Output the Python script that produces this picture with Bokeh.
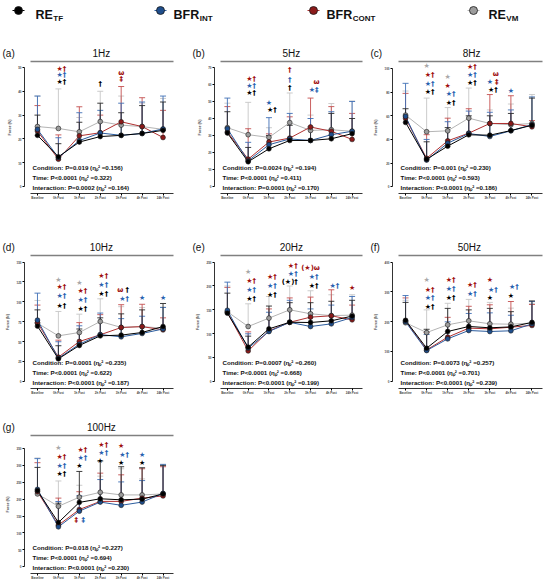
from bokeh.plotting import figure
from bokeh.layouts import column, row
from bokeh.models import (ColumnDataSource, Range1d, FixedTicker, LinearAxis, Label,
                          Whisker, TeeHead, Title)
from bokeh.core.properties import value
from bokeh.embed import file_html
from bokeh.resources import INLINE

# ---------------- data ----------------
times = ["Baseline", "0h Post", "1h Post", "2h Post", "3h Post", "4h Post", "24h Post"]
legend_main = ["RE", "BFR", "BFR", "RE"]
legend_sub = ["TF", "INT", "CONT", "VM"]

# 1 Hz
hz1_tf = [21.5, 12.5, 18.7, 21.0, 21.5, 22.3, 23.6]
hz1_tf_sd = [8.5, 5.5, 8.3, 14.0, 9.5, 11.7, 11.9]
hz1_int = [24.0, 12.2, 19.3, 22.5, 21.5, 22.3, 24.2]
hz1_int_sd = [14.0, 8.3, 11.7, 9.5, 13.5, 13.2, 13.8]
hz1_cont = [23.3, 11.5, 21.3, 22.6, 27.2, 25.2, 20.6]
hz1_cont_sd = [10.7, 10.2, 12.2, 7.4, 14.8, 12.1, 11.4]
hz1_vm = [25.2, 24.4, 23.0, 27.3, 25.8, 25.2, 24.0]
hz1_vm_sd = [12.8, 16.6, 6.0, 12.7, 12.2, 9.8, 13.0]

# 5 Hz
hz5_tf = [31.5, 14.6, 22.2, 27.1, 27.1, 28.1, 31.1]
hz5_tf_sd = [12.5, 8.4, 7.8, 8.9, 7.9, 14.9, 8.9]
hz5_int = [34.0, 15.1, 24.6, 28.0, 27.1, 30.5, 32.5]
hz5_int_sd = [18.0, 10.9, 15.9, 15.0, 12.9, 13.5, 17.5]
hz5_cont = [32.1, 16.1, 26.2, 28.5, 35.0, 32.5, 27.7]
hz5_cont_sd = [14.9, 17.9, 4.8, 12.5, 17.0, 14.5, 15.3]
hz5_vm = [34.6, 30.5, 28.9, 37.6, 33.0, 33.4, 32.5]
hz5_vm_sd = [14.4, 19.0, 5.7, 17.4, 9.0, 15.4, 17.8]

# 8 Hz
hz8_tf = [54.4, 23.2, 34.3, 43.9, 43.6, 47.5, 52.0]
hz8_tf_sd = [11.6, 14.8, 15.7, 16.1, 16.4, 14.5, 23.0]
hz8_int = [59.5, 22.5, 36.8, 45.0, 42.5, 47.3, 52.5]
hz8_int_sd = [28.0, 17.5, 18.2, 19.0, 20.5, 17.7, 23.5]
hz8_cont = [58.0, 24.0, 38.8, 45.3, 53.5, 53.5, 50.7]
hz8_cont_sd = [21.0, 20.0, 19.2, 20.7, 24.5, 23.5, 5.3]
hz8_vm = [60.6, 46.5, 47.3, 58.0, 53.5, 52.4, 53.5]
hz8_vm_sd = [20.4, 28.5, 19.7, 25.5, 11.5, 17.6, 24.5]

# 10 Hz
hz10_tf = [69.6, 28.5, 45.3, 57.4, 58.3, 61.6, 69.1]
hz10_tf_sd = [20.4, 16.5, 20.7, 22.6, 26.7, 28.4, 28.9]
hz10_int = [77.1, 29.3, 46.9, 59.0, 56.2, 60.4, 66.0]
hz10_int_sd = [33.9, 20.7, 23.1, 27.0, 22.8, 21.6, 27.0]
hz10_cont = [74.0, 30.6, 50.3, 58.7, 67.9, 69.0, 64.9]
hz10_cont_sd = [22.0, 21.4, 23.7, 25.3, 28.6, 28.0, 15.1]
hz10_vm = [73.3, 57.4, 61.6, 75.4, 68.0, 69.0, 67.0]
hz10_vm_sd = [28.5, 30.6, 23.0, 28.5, 26.0, 24.0, 26.4]

# 20 Hz
hz20_tf = [143.0, 72.0, 110.3, 124.1, 123.6, 127.1, 137.0]
hz20_tf_sd = [42.0, 23.0, 47.7, 40.9, 41.4, 40.9, 33.0]
hz20_int = [149.0, 70.0, 104.7, 124.0, 115.2, 120.8, 134.0]
hz20_int_sd = [59.0, 30.0, 40.3, 46.0, 36.8, 39.2, 44.0]
hz20_cont = [145.0, 64.2, 106.0, 124.0, 134.8, 137.6, 129.2]
hz20_cont_sd = [52.0, 39.8, 46.0, 51.0, 41.9, 54.4, 30.8]
hz20_vm = [146.0, 115.2, 132.7, 150.1, 141.8, 138.0, 139.0]
hz20_vm_sd = [54.0, 47.5, 45.3, 49.9, 48.2, 43.6, 42.6]

# 50 Hz
hz50_tf = [205.0, 111.7, 167.6, 184.4, 180.0, 183.0, 198.0]
hz50_tf_sd = [60.0, 63.3, 77.4, 55.6, 65.0, 51.0, 72.0]
hz50_int = [200.0, 103.9, 143.0, 171.0, 167.6, 170.0, 193.0]
hz50_int_sd = [88.0, 54.1, 57.0, 57.0, 62.4, 52.0, 75.0]
hz50_cont = [203.0, 106.0, 148.6, 178.8, 176.5, 182.0, 188.0]
hz50_cont_sd = [77.0, 59.0, 66.4, 73.2, 80.5, 86.0, 70.0]
hz50_vm = [197.0, 164.0, 190.0, 203.4, 193.3, 192.0, 196.0]
hz50_vm_sd = [75.0, 76.0, 72.0, 71.6, 71.7, 53.8, 66.0]

# 100 Hz
hz100_tf = [225.0, 130.8, 190.4, 201.0, 198.0, 200.0, 215.4]
hz100_tf_sd = [69.0, 57.2, 91.6, 112.0, 98.0, 93.0, 84.6]
hz100_int = [228.8, 118.0, 164.4, 191.3, 181.7, 191.3, 217.0]
hz100_int_sd = [91.2, 75.0, 45.6, 66.7, 69.3, 63.7, 86.0]
hz100_cont = [222.0, 123.0, 169.2, 193.3, 193.3, 202.9, 209.6]
hz100_cont_sd = [86.0, 80.0, 52.8, 83.7, 78.7, 87.1, 86.4]
hz100_vm = [215.4, 178.8, 205.8, 220.2, 212.5, 212.5, 215.4]
hz100_vm_sd = [106.6, 75.0, 35.2, 47.8, 77.5, 47.5, 82.6]

# y-axis ticks per panel
hz1_ticks = [0, 10, 20, 30, 40, 50]
hz5_ticks = [0, 10, 20, 30, 40, 50, 60, 70]
hz8_ticks = [0, 20, 40, 60, 80, 100]
hz10_ticks = [0, 25, 50, 75, 100, 125, 150]
hz20_ticks = [0, 50, 100, 150, 200, 250]
hz50_ticks = [0, 100, 200, 300, 400]
hz100_ticks = [0, 50, 100, 150, 200, 250, 300, 350]

# significance marks: (time index, force value, symbol, group[, nudge px])
hz1_marks = [(1, 49.4, "★†", "r"), (1, 46.7, "★†", "b"), (1, 43.9, "★†", "k"),
             (3, 43.0, "†", "k"), (4, 47.7, "ω", "r"), (4, 45.0, "‡", "r")]
hz5_marks = [(1, 63.5, "★†", "r"), (1, 59.2, "★†", "b"), (1, 54.7, "★†", "k"),
             (2, 49.4, "★", "b"), (2, 44.8, "★†", "k"),
             (3, 68.4, "†", "r"), (3, 62.9, "†", "b"), (3, 58.2, "†", "k"),
             (4, 61.5, "ω", "r", 6), (4, 57.0, "★‡", "b")]
hz8_marks = [(1, 102.3, "★", "g"), (1, 94.6, "★†", "r"), (1, 87.0, "★†", "b"), (1, 79.9, "★†", "k"),
             (2, 92.6, "★", "g"), (2, 85.6, "★", "r"), (2, 78.5, "★†", "b"), (2, 70.8, "★†", "k"),
             (3, 101.7, "★†", "r"), (3, 94.6, "★†", "b"), (3, 87.5, "★†", "k"),
             (4, 95.5, "ω", "r", 6), (4, 88.4, "★", "b"), (4, 88.4, "‡", "r", 7), (4, 81.9, "★†", "k"),
             (5, 81.3, "★", "b")]
hz10_marks = [(1, 127.8, "★", "g"), (1, 118.6, "★†", "r"), (1, 107.7, "★†", "b"), (1, 95.1, "★†", "k"),
              (2, 123.6, "★", "g"), (2, 113.1, "★†", "r"), (2, 101.8, "★†", "b"), (2, 90.9, "★†", "k"),
              (3, 132.0, "★†", "r"), (3, 121.5, "★†", "b"), (3, 109.8, "★†", "k"),
              (4, 114.4, "ω", "r", -1), (4, 114.4, "†", "k", 6), (4, 103.9, "★†", "b"),
              (5, 104.8, "★", "b"), (6, 104.8, "★", "b")]
hz20_marks = [(1, 228.4, "★", "g"), (1, 209.5, "★†", "r"), (1, 190.6, "★†", "b"), (1, 172.5, "★†", "k"),
              (2, 218.6, "★†", "r"), (2, 200.4, "★†", "b"), (2, 181.6, "★†", "k"),
              (3, 242.3, "★†", "r"), (3, 224.9, "★†", "b"), (3, 207.4, "(★)†", "k"),
              (4, 237.4, "(★)ω", "r"), (4, 218.6, "★†", "b"), (4, 200.4, "★†", "k"),
              (5, 200.4, "★†", "b"), (6, 195.5, "★", "r")]
hz50_marks = [(1, 338.5, "★", "g"), (1, 307.3, "★†", "r"), (1, 279.3, "★†", "b"), (1, 249.2, "★†", "k"),
              (2, 338.5, "★†", "r"), (2, 309.5, "★†", "b"), (2, 279.3, "★†", "k"),
              (3, 321.8, "★†", "r"), (3, 292.7, "★†", "b"),
              (4, 338.5, "★", "r"), (4, 307.3, "★†", "b"), (4, 279.3, "★", "k"),
              (5, 316.2, "★†", "b"), (5, 287.2, "★", "k")]
hz100_marks = [(1, 352.0, "★", "g"), (1, 325.0, "★†", "r"), (1, 299.0, "★†", "b"), (1, 275.0, "★†", "k"),
               (2, 347.0, "★†", "r"), (2, 323.0, "★†", "b"), (2, 299.0, "★", "k"),
               (2, 137.5, "‡", "r", -3), (2, 137.5, "‡", "b", 4),
               (3, 361.5, "★†", "r"), (3, 337.5, "★†", "b"), (3, 313.5, "★", "k"),
               (4, 356.7, "★", "r"), (4, 330.8, "★†", "b"), (4, 306.7, "★", "k"),
               (5, 330.8, "★", "b"), (5, 306.7, "★", "k")]

hz1_stats = ["Condition: P=0.019 (ηₚ² =0.156)", "Time: P<0.0001 (ηₚ² =0.322)", "Interaction: P=0.0002 (ηₚ² =0.164)"]
hz5_stats = ["Condition: P=0.0024 (ηₚ² =0.194)", "Time: P<0.0001 (ηₚ² =0.411)", "Interaction: P=0.0001 (ηₚ² =0.170)"]
hz8_stats = ["Condition: P=0.001 (ηₚ² =0.230)", "Time: P<0.0001 (ηₚ² =0.593)", "Interaction: P<0.0001 (ηₚ² =0.186)"]
hz10_stats = ["Condition: P=0.0001 (ηₚ² =0.235)", "Time: P<0.0001 (ηₚ² =0.622)", "Interaction: P<0.0001 (ηₚ² =0.187)"]
hz20_stats = ["Condition: P=0.0007 (ηₚ² =0.260)", "Time: P<0.0001 (ηₚ² =0.668)", "Interaction: P<0.0001 (ηₚ² =0.199)"]
hz50_stats = ["Condition: P=0.0073 (ηₚ² =0.257)", "Time: P<0.0001 (ηₚ² =0.701)", "Interaction: P<0.0001 (ηₚ² =0.239)"]
hz100_stats = ["Condition: P=0.018 (ηₚ² =0.227)", "Time: P<0.0001 (ηₚ² =0.694)", "Interaction: P<0.0001 (ηₚ² =0.230)"]

# ---------------- style ----------------
FONT = "Liberation Sans"
SYM_FONT = "DejaVu Sans"
fill_col = {"k": "#000000", "b": "#1f4e8c", "r": "#8b1a1a", "g": "#9c9c9c"}
line_col = {"k": "#000000", "b": "#2b5c9e", "r": "#b03030", "g": "#b4b4b4"}
err_col = {"k": "#2a2a2a", "b": "#3f6fb5", "r": "#c45050", "g": "#c6c6c6"}
sym_col = {"k": "#000000", "b": "#2a62b0", "r": "#a01010", "g": "#a8a8a8"}
draw_order = ["g", "r", "b", "k"]
# Arial / Liberation Sans advance widths (em) for composing the panel heading
ADV = {"(": 0.333, ")": 0.333, "a": 0.556, "b": 0.556, "c": 0.5, "d": 0.556, "e": 0.556,
       "f": 0.278, "g": 0.556, "H": 0.722, "z": 0.5, " ": 0.278}
for d in "0123456789":
    ADV[d] = 0.556

X0, X1, XAX0 = -0.62, 6.5, -0.33
COLS = [(186, 24, 13), (178, 28, 2), (179, 28, 1)]     # width, left, right
ROWS = [(197, 37, 28), (186, 34, 19), (176, 28, 10)]   # height, top, bottom


def text_w(s, size):
    return sum(ADV.get(c, 0.556) for c in s) * size


def make_panel(tag, title, ticks, top_factor, series, marks, stats, col, rw):
    W, lb, rb = COLS[col]
    H, tb, bb = ROWS[rw]
    fw = W - lb - rb
    ymax = ticks[-1]
    p = figure(width=W, height=H, min_border_left=lb, min_border_right=rb,
               min_border_top=tb, min_border_bottom=bb, toolbar_location=None,
               output_backend="svg", x_range=Range1d(X0, X1),
               y_range=Range1d(-0.058 * ymax, ymax * top_factor),
               x_axis_type=None, y_axis_type=None)
    p.outline_line_color = None
    p.background_fill_color = None
    p.border_fill_color = None

    # heading: panel tag at the far left, frequency centred over the title rule
    tsize = 10
    x_start = -22
    centre = fw * ((XAX0 - X0) / (X1 - X0) + 1) / 2
    gap = centre - x_start - text_w(tag, tsize) - text_w(title, tsize) / 2
    n = max(1, int(round(gap / (ADV[" "] * tsize))))
    p.title = Title(text=tag + "\u00a0" * n + title, align="left", offset=x_start,
                    text_font=FONT, text_font_size=f"{tsize}px", text_font_style="normal",
                    text_color="#111111", standoff=5)

    xa = LinearAxis(ticker=FixedTicker(ticks=list(range(len(times)))),
                    major_label_overrides={i: t for i, t in enumerate(times)},
                    bounds=(XAX0, X1))
    xa.major_label_text_font_size = "3px"
    xa.major_label_text_font_style = "bold"
    xa.major_label_text_font = FONT
    xa.major_label_standoff = 1
    xa.major_tick_out = 2
    xa.major_tick_in = 0
    xa.minor_tick_line_color = None
    xa.axis_line_width = 0.8
    p.add_layout(xa, "below")

    ya = LinearAxis(ticker=FixedTicker(ticks=ticks), bounds=(0, ymax), axis_label="Force (N)")
    ya.major_label_text_font_size = "3px"
    ya.major_label_text_font_style = "bold"
    ya.major_label_text_font = FONT
    ya.major_label_standoff = 1
    ya.major_tick_out = 2
    ya.major_tick_in = 0
    ya.minor_tick_line_color = None
    ya.axis_line_width = 0.8
    ya.axis_label_text_font_size = "3.6px"
    ya.axis_label_text_font_style = "bold"
    ya.axis_label_text_font = FONT
    ya.axis_label_standoff = 3
    p.add_layout(ya, "left")

    ta = LinearAxis(ticker=FixedTicker(ticks=[]), bounds=(XAX0, X1 + 0.15))
    ta.axis_line_color = "#808080"
    ta.axis_line_width = 1.5
    ta.major_tick_out = 0
    ta.major_tick_in = 0
    ta.minor_tick_line_color = None
    ta.major_label_text_font_size = "0px"
    ta.major_label_standoff = 0
    p.add_layout(ta, "above")

    x = list(range(len(times)))
    for key in draw_order:
        m, sd = series[key]
        up = [a + b for a, b in zip(m, sd)]
        src = ColumnDataSource(dict(x=x, y=m, upper=up))
        w = Whisker(source=src, base="x", upper="upper", lower="y",
                    upper_head=TeeHead(size=6, line_color=err_col[key], line_width=0.9),
                    lower_head=None, line_color=err_col[key], line_width=0.9, level="underlay")
        p.add_layout(w)
    for key in draw_order:
        m, sd = series[key]
        p.line(x, m, line_color=line_col[key], line_width=1)
    for key in draw_order:
        m, sd = series[key]
        p.scatter(x, m, size=4.8, fill_color=fill_col[key], line_color="#1a1a1a", line_width=0.6)

    mx, my, mt, mc, md = [], [], [], [], []
    for mk in marks:
        t, yv, s, g = mk[:4]
        if len(mk) > 4:
            dx = mk[4]
        elif s.startswith("★") and len(s) > 1:
            dx = 3
        else:
            dx = 0
        mx.append(t); my.append(yv); mt.append(s); mc.append(sym_col[g]); md.append(dx)
    msrc = ColumnDataSource(dict(x=mx, y=my, text=mt, color=mc, dx=md))
    p.text(x="x", y="y", text="text", source=msrc, text_color="color", x_offset="dx",
           text_align="center", text_baseline="middle", text_font_size="7px",
           text_font_style="bold", text_font=value(SYM_FONT))

    for i, s in enumerate(stats):
        p.add_layout(Label(x=8, y=26 - 10 * i, x_units="screen", y_units="screen", text=s,
                           text_font=FONT, text_font_size="6.2px", text_font_style="bold",
                           text_baseline="middle", text_color="#111111"))
    return p


pa = make_panel("(a)", "1Hz", hz1_ticks, 1.05,
                {"k": (hz1_tf, hz1_tf_sd), "b": (hz1_int, hz1_int_sd), "r": (hz1_cont, hz1_cont_sd), "g": (hz1_vm, hz1_vm_sd)},
                hz1_marks, hz1_stats, 0, 0)
pb = make_panel("(b)", "5Hz", hz5_ticks, 1.05,
                {"k": (hz5_tf, hz5_tf_sd), "b": (hz5_int, hz5_int_sd), "r": (hz5_cont, hz5_cont_sd), "g": (hz5_vm, hz5_vm_sd)},
                hz5_marks, hz5_stats, 1, 0)
pc = make_panel("(c)", "8Hz", hz8_ticks, 1.06,
                {"k": (hz8_tf, hz8_tf_sd), "b": (hz8_int, hz8_int_sd), "r": (hz8_cont, hz8_cont_sd), "g": (hz8_vm, hz8_vm_sd)},
                hz8_marks, hz8_stats, 2, 0)
pd_ = make_panel("(d)", "10Hz", hz10_ticks, 1.055,
                 {"k": (hz10_tf, hz10_tf_sd), "b": (hz10_int, hz10_int_sd), "r": (hz10_cont, hz10_cont_sd), "g": (hz10_vm, hz10_vm_sd)},
                 hz10_marks, hz10_stats, 0, 1)
pe = make_panel("(e)", "20Hz", hz20_ticks, 1.055,
                {"k": (hz20_tf, hz20_tf_sd), "b": (hz20_int, hz20_int_sd), "r": (hz20_cont, hz20_cont_sd), "g": (hz20_vm, hz20_vm_sd)},
                hz20_marks, hz20_stats, 1, 1)
pf = make_panel("(f)", "50Hz", hz50_ticks, 1.055,
                {"k": (hz50_tf, hz50_tf_sd), "b": (hz50_int, hz50_int_sd), "r": (hz50_cont, hz50_cont_sd), "g": (hz50_vm, hz50_vm_sd)},
                hz50_marks, hz50_stats, 2, 1)
pg = make_panel("(g)", "100Hz", hz100_ticks, 1.11,
                {"k": (hz100_tf, hz100_tf_sd), "b": (hz100_int, hz100_int_sd), "r": (hz100_cont, hz100_cont_sd), "g": (hz100_vm, hz100_vm_sd)},
                hz100_marks, hz100_stats, 0, 2)

# ---------------- legend ----------------
LW, LH = 543, 24
leg = figure(width=LW, height=LH, x_range=Range1d(0, LW), y_range=Range1d(0, LH),
             toolbar_location=None, output_backend="svg", x_axis_type=None, y_axis_type=None,
             min_border=0)
leg.outline_line_color = None
keys = ["k", "b", "r", "g"]
leg_marker_x = [18, 160, 313, 473]
leg_text_x = [35, 173, 326, 488]
char_w = {"R": 0.722, "E": 0.667, "B": 0.722, "F": 0.611}
main_size = 12.5
for i, key in enumerate(keys):
    cx = leg_marker_x[i]
    leg.segment(x0=[cx - 6], y0=[LH - 10], x1=[cx + 6], y1=[LH - 10], line_color=line_col[key], line_width=1.2)
    leg.scatter([cx], [LH - 10], size=8, fill_color=fill_col[key], line_color="#1a1a1a", line_width=0.8)
    tx = leg_text_x[i]
    sub_dx = sum(char_w[c] for c in legend_main[i]) * main_size + 0.5
    leg.text(x=[tx], y=[LH - 14.5], text=[legend_main[i]], text_font=value(FONT), text_font_style="bold",
             text_font_size=f"{main_size}px", text_baseline="alphabetic", text_color="#111111")
    leg.text(x=[tx], y=[LH - 17.5], text=[legend_sub[i]], x_offset=sub_dx, text_font=value(FONT),
             text_font_style="bold", text_font_size="8px", text_baseline="alphabetic",
             text_color="#111111")

layout = column(leg, row(pa, pb, pc), row(pd_, pe, pf), row(pg))
open("out.html", "w").write(file_html(layout, INLINE))
